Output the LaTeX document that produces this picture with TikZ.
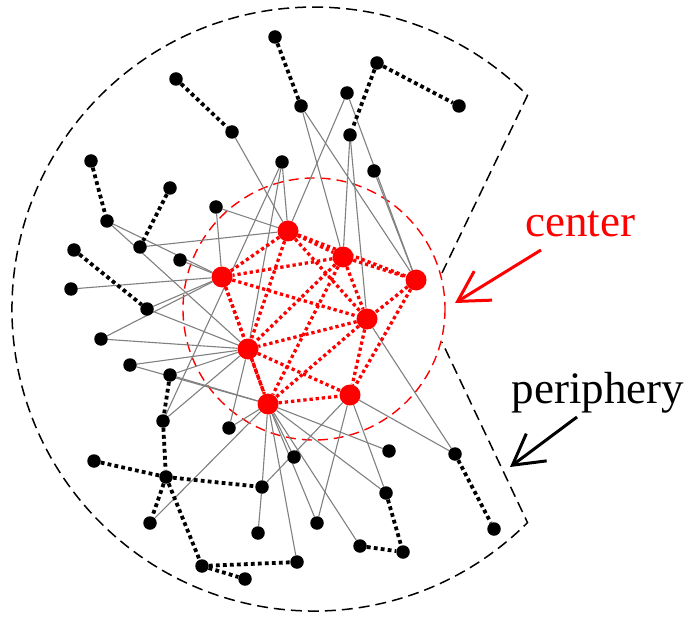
\documentclass[tikz,border=0pt]{standalone}
\usepackage{fontspec}
\setmainfont{Liberation Serif}
\usetikzlibrary{arrows.meta,backgrounds}

\definecolor{linkgray}{RGB}{128,128,128}

\tikzset{
  pnode/.style={circle, fill=black, inner sep=0pt, minimum size=13.5pt},
  cnode/.style={circle, fill=red, inner sep=0pt, minimum size=21pt},
  plink/.style={draw=black, line width=3.8pt, dash pattern=on 3.8pt off 3.2pt},
  clink/.style={draw=red, line width=3.3pt, dash pattern=on 3.3pt off 2.9pt},
  glink/.style={draw=linkgray, line width=1.1pt},
  region/.style={draw=black, line width=1.5pt, dash pattern=on 11pt off 6pt},
  coreregion/.style={draw=red, line width=1.4pt, dash pattern=on 10pt off 6pt},
  label/.style={font=\fontsize{45}{50}\selectfont, inner sep=0pt, anchor=base},
}

\begin{document}
\begin{tikzpicture}[x=1pt, y=-1pt]
\useasboundingbox (0,0) rectangle (687,617);

% core nodes
\node[cnode] (c1) at (288,231) {};
\node[cnode] (c2) at (343,257) {};
\node[cnode] (c3) at (222,277) {};
\node[cnode] (c4) at (416,280) {};
\node[cnode] (c5) at (367,319) {};
\node[cnode] (c6) at (248,349) {};
\node[cnode] (c7) at (268,404) {};
\node[cnode] (c8) at (350,395) {};

% peripheral nodes
\node[pnode] (pa) at (275,37) {};
\node[pnode] (pb) at (176,79) {};
\node[pnode] (pc) at (377,63) {};
\node[pnode] (pd) at (459,106) {};
\node[pnode] (pe) at (347,93) {};
\node[pnode] (pf) at (301,106) {};
\node[pnode] (pg) at (232,132) {};
\node[pnode] (ph) at (350,135) {};
\node[pnode] (pi) at (282,162) {};
\node[pnode] (pj) at (374,171) {};
\node[pnode] (pk) at (91,161) {};
\node[pnode] (pl) at (170,188) {};
\node[pnode] (pm) at (216,207) {};
\node[pnode] (pn) at (107,221) {};
\node[pnode] (po) at (140,247) {};
\node[pnode] (pp) at (74,250) {};
\node[pnode] (pq) at (180,260) {};
\node[pnode] (pr) at (71,289) {};
\node[pnode] (ps) at (147,309) {};
\node[pnode] (pt) at (101,339) {};
\node[pnode] (pu) at (130,365) {};
\node[pnode] (pv) at (170,375) {};
\node[pnode] (pw) at (163,421) {};
\node[pnode] (px) at (229,428) {};
\node[pnode] (py) at (94,461) {};
\node[pnode] (pz) at (166,477) {};
\node[pnode] (qa) at (294,457) {};
\node[pnode] (qb) at (262,487) {};
\node[pnode] (qc) at (150,523) {};
\node[pnode] (qd) at (258,533) {};
\node[pnode] (qe) at (317,523) {};
\node[pnode] (qf) at (389,451) {};
\node[pnode] (qg) at (386,493) {};
\node[pnode] (qh) at (455,454) {};
\node[pnode] (qi) at (494,529) {};
\node[pnode] (qj) at (360,546) {};
\node[pnode] (qk) at (403,552) {};
\node[pnode] (ql) at (202,566) {};
\node[pnode] (qm) at (297,562) {};
\node[pnode] (qn) at (245,579) {};

% boundary of the core and of the periphery
\coordinate (o) at (314,309);
\coordinate (gapU) at (442,273);
\coordinate (gapL) at (442,342);
\coordinate (rimU) at (527.5,95.5);
\coordinate (rimL) at (527.5,522.5);

\begin{scope}[on background layer]
  \draw[coreregion] (o) circle[radius=131];
  \draw[region] (gapU) -- (rimU) arc[start angle=-45, end angle=-315, radius=302] -- (gapL);

  % links between core and periphery
  \foreach \a/\b in {pg/c1, pf/c2, pf/c4, pe/c1, pe/c4, pj/c4, ph/c2, ph/c5,
                     pi/c1, pi/c6, pi/pw, pm/c1, pm/c3, pn/c3, pn/c6, po/c1,
                     pq/c3, pr/c3, ps/c3, ps/c6, pt/c3, pt/c6, pu/c6, pu/c7,
                     pv/c6, pv/c7, pw/c6, px/c6, px/c7, qc/c7, qb/c7, qd/qb,
                     qb/c8, qa/c7, qe/c7, qe/c8, qm/c7, qj/c7, qg/c7, qf/c7,
                     qg/c8, qh/c8, qh/c5}
    \draw[glink] (\a) -- (\b);

  % links inside the periphery
  \foreach \a/\b in {pa/pf, pb/pg, pc/pd, pc/ph, pk/pn, pl/po, pp/ps,
                     pv/pw, pw/pz, py/pz, pz/qb, pz/qc, pz/ql, ql/qm, ql/qn,
                     qg/qk, qj/qk, qh/qi}
    \draw[plink] (\a) -- (\b);

  % links inside the core
  \foreach \a/\b in {c1/c2, c1/c3, c1/c4, c1/c5, c1/c6,
                     c2/c3, c2/c4, c2/c5, c2/c6, c2/c7,
                     c3/c5, c3/c6, c3/c7, c4/c5, c4/c8,
                     c5/c6, c5/c7, c5/c8, c6/c7, c6/c8, c7/c8}
    \draw[clink] (\a) -- (\b);
\end{scope}

% labels with arrows
\node[label, text=red] (tcenter) at (580,237) {center};
\node[label, text=black] (tperiph) at (598,403) {periphery};
\coordinate (acTail) at (541,250);
\coordinate (acTip) at (455,303);
\coordinate (apTail) at (577,417);
\coordinate (apTip) at (510,467);
\draw[red, line width=3pt, -{Straight Barb[length=30pt, width=34pt]}] (acTail) -- (acTip);
\draw[black, line width=3pt, -{Straight Barb[length=30pt, width=34pt]}] (apTail) -- (apTip);
\end{tikzpicture}
\end{document}
